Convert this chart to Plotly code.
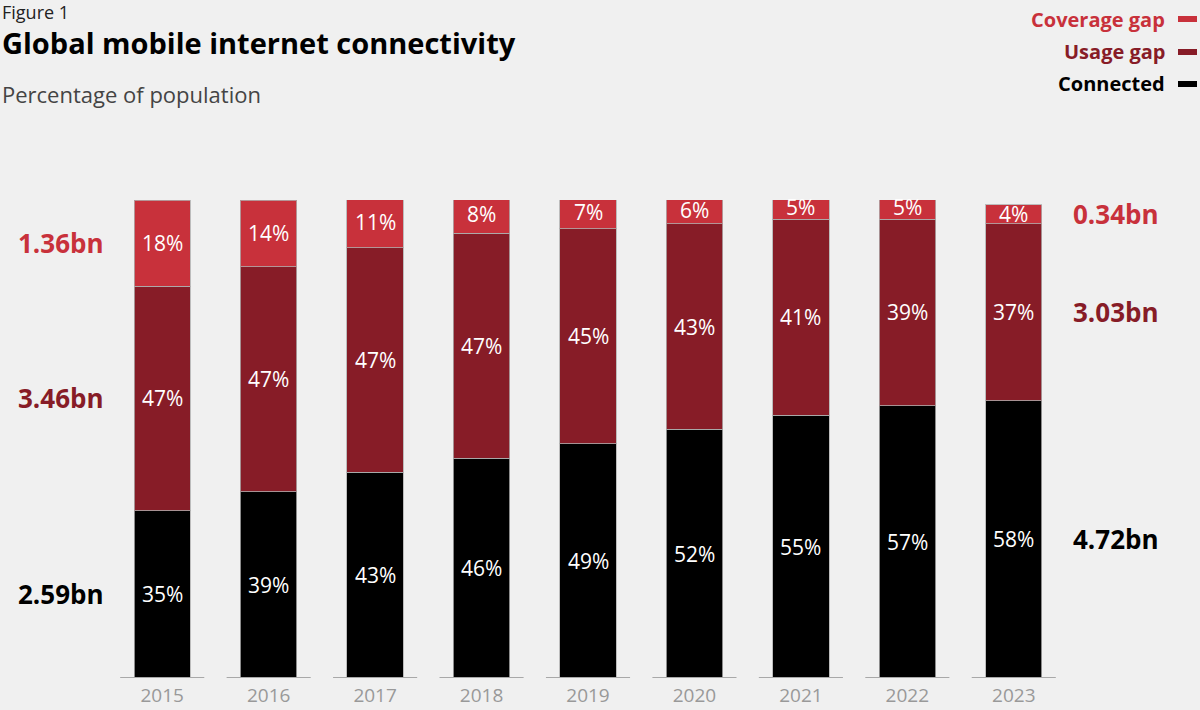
import plotly.graph_objects as go

# Share of the world population by mobile internet status, 2015-2023 (%)
years = ["2015", "2016", "2017", "2018", "2019", "2020", "2021", "2022", "2023"]
connected = [35, 39, 43, 46, 49, 52, 55, 57, 58]
usage_gap = [47, 47, 47, 47, 45, 43, 41, 39, 37]
coverage_gap = [18, 14, 11, 8, 7, 6, 5, 5, 4]

# Absolute population figures for the first and last year
start_bn = {"Connected": "2.59bn", "Usage gap": "3.46bn", "Coverage gap": "1.36bn"}
end_bn = {"Connected": "4.72bn", "Usage gap": "3.03bn", "Coverage gap": "0.34bn"}

COL_CONNECTED = "#000000"
COL_USAGE = "#871C27"
COL_COVERAGE = "#C8313B"
BG = "#F0F0F0"
FONT = "Open Sans"

series = [
    ("Connected", connected, COL_CONNECTED),
    ("Usage gap", usage_gap, COL_USAGE),
    ("Coverage gap", coverage_gap, COL_COVERAGE),
]

# Plot-area geometry (pixels) used to place the heading and legend
L, R, T, B, W, H = 109, 133, 200, 32, 1200, 710


def px(xpx):
    return (xpx - L) / (W - L - R)


def py(ypx):
    return (H - B - ypx) / (H - T - B)


fig = go.Figure()
for name, vals, col in series:
    fig.add_trace(go.Bar(
        x=years, y=vals, name=name,
        marker=dict(color=col, line=dict(color="rgba(175,175,175,0.8)", width=1)),
        width=0.53,
        cliponaxis=False,
        showlegend=False,
        hoverinfo="skip",
    ))

annotations = []
shapes = []

# Percentage labels centred in every segment
for i, yr in enumerate(years):
    base = 0
    for name, vals, _ in series:
        annotations.append(dict(
            xref="x", yref="y", x=i, y=base + vals[i] / 2, text=f"{vals[i]}%",
            showarrow=False, xanchor="center", yanchor="middle",
            font=dict(family=FONT, size=21, color="white")))
        base += vals[i]


# Population labels beside the first and last bars, at segment centres
def centres(idx):
    out, base = {}, 0
    for name, vals, _ in series:
        out[name] = base + vals[idx] / 2
        base += vals[idx]
    return out


c_first = centres(0)
c_last = centres(len(years) - 1)
for name, _, col in series:
    annotations.append(dict(
        xref="paper", yref="y", x=0, y=c_first[name], xanchor="right", yanchor="middle",
        xshift=-3, text=f"<b>{start_bn[name]}</b>", showarrow=False,
        font=dict(family=FONT, size=26, color=col)))
    annotations.append(dict(
        xref="paper", yref="y", x=1, y=c_last[name], xanchor="left", yanchor="middle",
        xshift=4, text=f"<b>{end_bn[name]}</b>", showarrow=False,
        font=dict(family=FONT, size=26, color=col)))

# Baseline segment under each bar
for i in range(len(years)):
    shapes.append(dict(type="line", xref="x", yref="y", x0=i - 0.395, x1=i + 0.395, y0=0, y1=0,
                       line=dict(color="#A8A8A8", width=2)))

# Legend, top right: text with a short colour bar to its right
legend_items = [("Coverage gap", COL_COVERAGE, 19), ("Usage gap", COL_USAGE, 52),
                ("Connected", COL_CONNECTED, 84)]
for label, col, ypx in legend_items:
    annotations.append(dict(
        xref="paper", yref="paper", x=px(1167), y=py(ypx),
        xanchor="right", yanchor="middle", text=f"<b>{label}</b>", showarrow=False,
        font=dict(family=FONT, size=20, color=col)))
    shapes.append(dict(type="rect", xref="paper", yref="paper",
                       x0=px(1178), x1=px(1197), y0=py(ypx + 3), y1=py(ypx - 3),
                       fillcolor=col, line=dict(width=0)))

# Heading block
annotations += [
    dict(xref="paper", yref="paper", x=px(0), y=py(12), xanchor="left", yanchor="middle",
         text="Figure 1", showarrow=False, font=dict(family=FONT, size=18, color="#222222")),
    dict(xref="paper", yref="paper", x=px(0), y=py(43), xanchor="left", yanchor="middle",
         text="<b>Global mobile internet connectivity</b>", showarrow=False,
         font=dict(family=FONT, size=29, color="#000000")),
    dict(xref="paper", yref="paper", x=px(0), y=py(94), xanchor="left", yanchor="middle",
         text="Percentage of population", showarrow=False,
         font=dict(family=FONT, size=22, color="#444444")),
]

fig.update_layout(
    barmode="stack",
    width=W, height=H,
    margin=dict(l=L, r=R, t=T, b=B),
    paper_bgcolor=BG, plot_bgcolor=BG,
    font=dict(family=FONT),
    annotations=annotations,
    shapes=shapes,
    xaxis=dict(type="category", range=[-0.5, len(years) - 0.5],
               showgrid=False, showline=False, zeroline=False, ticks="", automargin=False,
               tickfont=dict(family=FONT, size=19, color="#999999"), ticklabelstandoff=4),
    yaxis=dict(range=[0, 100], visible=False, automargin=False),
)

fig.write_html("out.html")
